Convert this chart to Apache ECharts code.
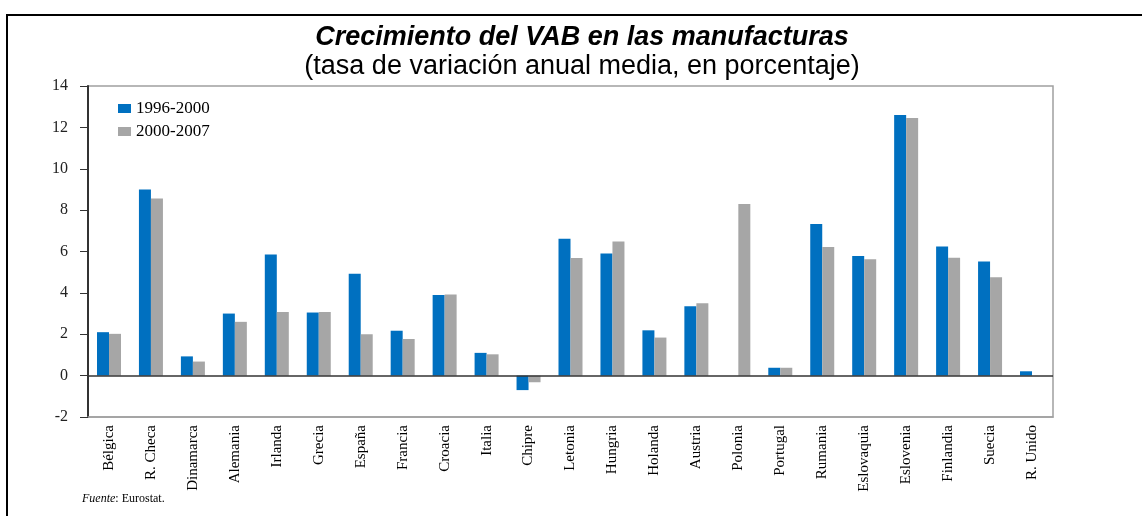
<!DOCTYPE html>
<html>
<head>
<meta charset="utf-8">
<script src="https://cdn.jsdelivr.net/npm/echarts@6/dist/echarts.min.js"></script>
<style>
  html, body { margin: 0; padding: 0; background: #fff; }
  #chart { width: 1142px; height: 516px; }
</style>
</head>
<body>
<div id="chart"></div>
<script>
// data
const categories = ['Bélgica', 'R. Checa', 'Dinamarca', 'Alemania', 'Irlanda', 'Grecia', 'España', 'Francia',
  'Croacia', 'Italia', 'Chipre', 'Letonia', 'Hungria', 'Holanda', 'Austria', 'Polonia', 'Portugal',
  'Rumania', 'Eslovaquia', 'Eslovenia', 'Finlandia', 'Suecia', 'R. Unido'];
const seriesNames = ['1996-2000', '2000-2007'];
const values1996 = [2.1, 9.0, 0.93, 3.0, 5.85, 3.05, 4.92, 2.17, 3.9, 1.1, -0.7, 6.62, 5.9, 2.19, 3.35, null,
  0.38, 7.33, 5.78, 12.6, 6.24, 5.52, 0.21];
const values2000 = [2.02, 8.56, 0.68, 2.6, 3.08, 3.08, 2.0, 1.77, 3.92, 1.03, -0.32, 5.68, 6.48, 1.84, 3.5, 8.3,
  0.38, 6.22, 5.63, 12.45, 5.7, 4.76, null];

const serif = '"Liberation Serif", "Times New Roman", serif';
const sans = '"Liberation Sans", Arial, sans-serif';

const myChart = echarts.init(document.getElementById('chart'));
myChart.setOption({
  animation: false,
  backgroundColor: '#fff',
  title: [
    {
      text: 'Crecimiento del VAB en las manufacturas',
      left: 582,
      top: 23,
      padding: 0,
      textAlign: 'center',
      textStyle: { fontFamily: sans, fontSize: 27, fontWeight: 'bold', fontStyle: 'italic', color: '#000', lineHeight: 30 },
    },
    {
      text: '(tasa de variación anual media, en porcentaje)',
      left: 582,
      top: 52,
      padding: 0,
      textAlign: 'center',
      textStyle: { fontFamily: sans, fontSize: 27, fontWeight: 'normal', color: '#000', lineHeight: 30 },
    },
    {
      text: '{i|Fuente}: Eurostat.',
      left: 82,
      top: 493,
      padding: 0,
      textStyle: {
        fontFamily: serif, fontSize: 12, fontWeight: 'normal', color: '#000',
        rich: { i: { fontFamily: serif, fontSize: 12, fontStyle: 'italic', color: '#000' } },
      },
    },
  ],
  // outer frame (top and left edges)
  graphic: [
    { type: 'line', shape: { x1: 6, y1: 15, x2: 1142, y2: 15 }, style: { stroke: '#000', lineWidth: 2 } },
    { type: 'line', shape: { x1: 7, y1: 14, x2: 7, y2: 516 }, style: { stroke: '#000', lineWidth: 2 } },
  ],
  legend: {
    orient: 'vertical',
    left: 118,
    top: 100,
    padding: 0,
    itemWidth: 13,
    itemHeight: 9,
    itemGap: 6,
    icon: 'rect',
    data: seriesNames,
    textStyle: { fontFamily: serif, fontSize: 17, color: '#000', lineHeight: 16 },
  },
  grid: {
    left: 88,
    right: 89,
    top: 86,
    bottom: 99,
    show: true,
    borderColor: '#a0a0a0',
    borderWidth: 1.5,
  },
  xAxis: {
    type: 'category',
    data: categories,
    position: 'bottom',
    axisLine: { onZero: false, lineStyle: { color: '#a0a0a0', width: 1.5 } },
    axisTick: { show: false },
    axisLabel: {
      interval: 0,
      rotate: 90,
      margin: 8,
      fontFamily: serif,
      fontSize: 15,
      color: '#000',
    },
  },
  yAxis: {
    type: 'value',
    min: -2,
    max: 14,
    interval: 2,
    splitLine: { show: false },
    axisLine: { show: true, lineStyle: { color: '#333', width: 2 } },
    axisTick: { show: true, length: 8, lineStyle: { color: '#333', width: 1 } },
    axisLabel: { margin: 20, fontFamily: serif, fontSize: 16, color: '#222' },
  },
  series: [
    {
      name: seriesNames[0],
      type: 'bar',
      data: values1996,
      barWidth: 12,
      barGap: '0%',
      itemStyle: { color: '#0070C0' },
      markLine: {
        silent: true,
        symbol: 'none',
        label: { show: false },
        lineStyle: { color: '#333', type: 'solid', width: 1.5 },
        data: [{ yAxis: 0 }],
      },
    },
    {
      name: seriesNames[1],
      type: 'bar',
      data: values2000,
      barWidth: 12,
      barGap: '0%',
      itemStyle: { color: '#A6A6A6' },
    },
  ],
});
</script>
</body>
</html>
